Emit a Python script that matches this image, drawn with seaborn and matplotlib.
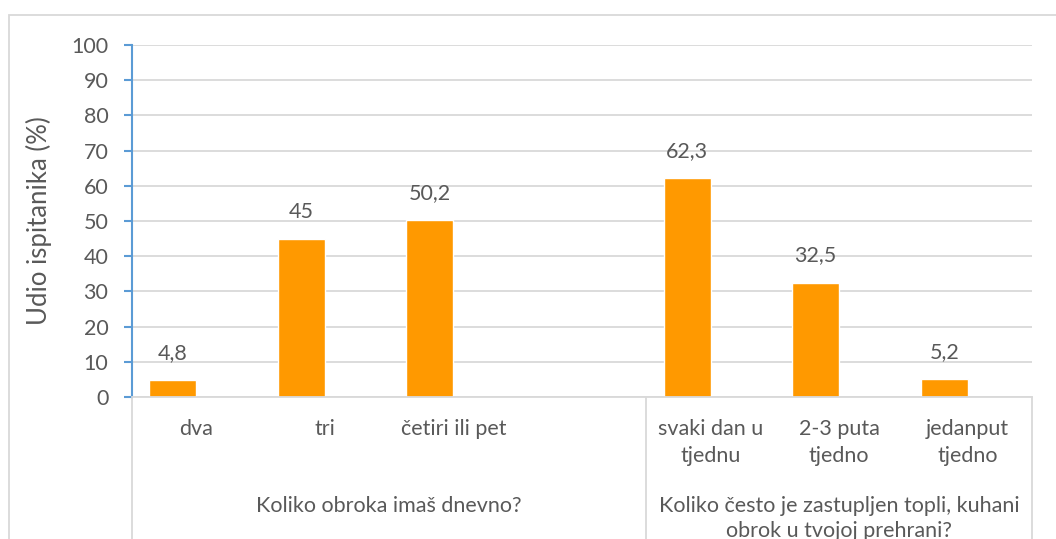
import matplotlib
matplotlib.use("Agg")
import matplotlib.pyplot as plt
import matplotlib.transforms as mtransforms
from matplotlib.patches import Rectangle
import seaborn as sns
import pandas as pd

categories = ["dva", "tri", "četiri ili pet",
              "svaki dan u\ntjednu", "2-3 puta\ntjedno", "jedanput\ntjedno"]
values = [4.8, 45, 50.2, 62.3, 32.5, 5.2]
value_labels = ["4,8", "45", "50,2", "62,3", "32,5", "5,2"]
order = ["dva", "tri", "četiri ili pet", " ",
         "svaki dan u\ntjednu", "2-3 puta\ntjedno", "jedanput\ntjedno"]
series = ["Niz 1", "Niz 2"]  # second series is empty in the source chart
group_labels = ["Koliko obroka imaš dnevno?",
                "Koliko često je zastupljen topli, kuhani\nobrok u tvojoj prehrani?"]
group_bounds = [(-0.5, 3.5), (3.5, 6.5)]
y_ticks = list(range(0, 101, 10))
y_label = "Udio ispitanika (%)"

sns.set_theme(style="white")
plt.rcParams["font.family"] = ["Lato", "DejaVu Sans"]
TXT = "#595959"
GRID = "#d9d9d9"
BLUE = "#5b9bd5"
ORANGE = "#ff9900"
FS = 15.5

df = pd.DataFrame({"cat": categories, "val": values, "series": series[0]})

fig = plt.figure(figsize=(10.56, 5.39), dpi=100)
W, H = 1056, 539
ax = fig.add_axes([132 / W, 1 - 397 / H, 900 / W, 352 / H])

sns.barplot(data=df, x="cat", y="val", order=order, hue="series",
            hue_order=series, palette=[ORANGE, "#a5a5a5"], dodge=True,
            width=0.73, saturation=1, legend=False, ax=ax)

ax.set_ylim(0, 100)
ax.set_xlim(-0.5, 6.5)
ax.set_yticks(y_ticks)
ax.set_yticklabels([str(t) for t in y_ticks], fontsize=FS, color=TXT)
ax.yaxis.grid(True, color=GRID, linewidth=1.3)
ax.set_axisbelow(True)
for s in ["top", "right"]:
    ax.spines[s].set_visible(False)
ax.spines["left"].set_color(BLUE)
ax.spines["left"].set_linewidth(1.5)
ax.spines["bottom"].set_color(GRID)
ax.spines["bottom"].set_linewidth(1.3)
ax.tick_params(axis="y", length=6, width=1.5, color=BLUE, left=True, pad=11)
ax.tick_params(axis="x", length=0, pad=16, labelsize=FS, labelcolor=TXT)
ax.set_xlabel("")
ax.set_ylabel(y_label, fontsize=18.5, color=TXT, labelpad=14)
for lbl in ax.get_xticklabels():
    lbl.set_linespacing(1.45)

# data labels
bars = [p for p in ax.patches if p.get_height() == p.get_height() and p.get_height() > 0]
bars.sort(key=lambda p: p.get_x())
for bar, lab in zip(bars, value_labels):
    ax.annotate(lab, (bar.get_x() + bar.get_width() / 2, bar.get_height()),
                xytext=(0, 19.5), textcoords="offset points",
                ha="center", va="center", fontsize=FS, color=TXT)

# multi-level category axis
trans = mtransforms.blended_transform_factory(ax.transData, ax.transAxes)
for xb in [-0.5, 3.5, 6.5]:
    ax.plot([xb, xb], [0, -0.45], transform=trans, color=GRID, lw=1.3,
            clip_on=False)
for (a, b), g in zip(group_bounds, group_labels):
    ax.text((a + b) / 2, -0.282, g, transform=trans, ha="center", va="top",
            fontsize=FS, color=TXT, linespacing=1.3)

# outer chart frame
fig.add_artist(Rectangle((9 / W, -0.1), 1.2, 1 - 15 / H + 0.1,
                         transform=fig.transFigure, fill=False,
                         edgecolor=GRID, lw=1.3))

fig.savefig("out.png", dpi=100, facecolor="white")
